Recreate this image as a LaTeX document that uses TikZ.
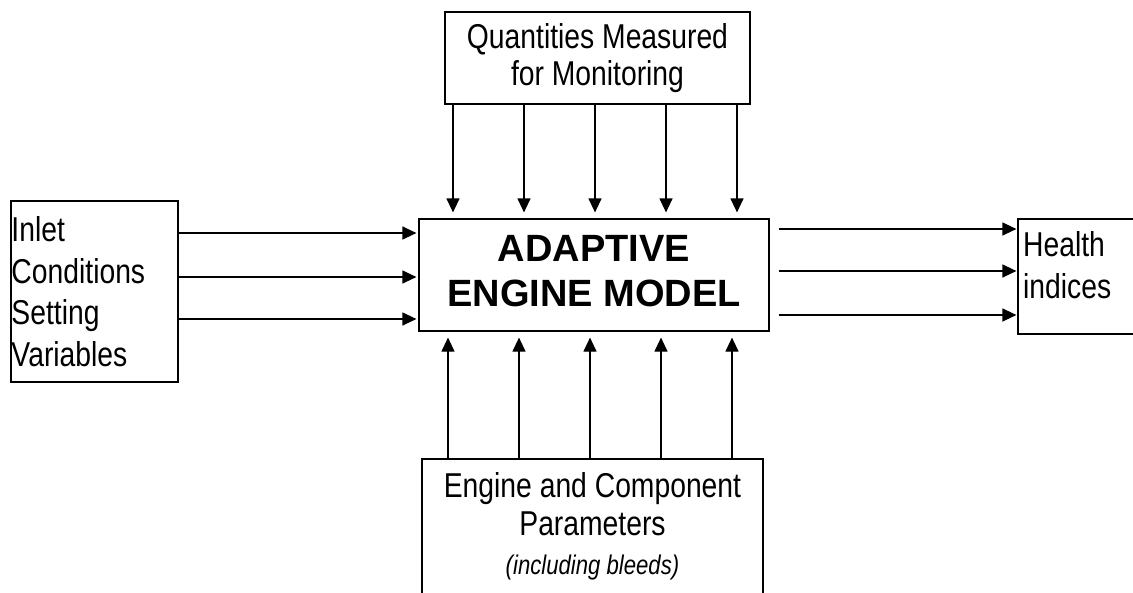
\documentclass[tikz,border=0pt]{standalone}
\usepackage{fontspec}
\setmainfont{Liberation Sans}
\newfontfamily\narrowsans{Liberation Sans}[FakeStretch=0.82]
\usetikzlibrary{arrows.meta}
\begin{document}
\begin{tikzpicture}[x=1pt,y=-1pt,
  box/.style={draw, line width=1.2pt, inner sep=0pt, rectangle},
  txt/.style={font=\narrowsans\fontsize{34.5}{41.5}\selectfont},
  flow/.style={line width=1.2pt, -{Triangle[length=14pt,width=13pt]}},
]
\useasboundingbox (0,0) rectangle (1133,592);

% boxes
\node[box, align=center, minimum width=305pt, minimum height=92pt,
      font=\narrowsans\fontsize{34.5}{37}\selectfont] (qty) at (597.5,58)
  {Quantities Measured\\for Monitoring};
\node[box, minimum width=350pt, minimum height=112pt,
      font=\bfseries\fontsize{38}{45}\selectfont] (model) at (594,275)
  {\raisebox{4pt}{\begin{tabular}{@{}c@{}}ADAPTIVE\\ENGINE MODEL\end{tabular}}};
\node[box, txt, align=left, inner xsep=0.5pt, text width=166pt,
      minimum width=167pt, minimum height=181pt] (inlet) at (94.5,291.5)
  {Inlet\\Conditions\\Setting\\Variables};
\node[box, minimum width=122pt, minimum height=115pt] (health) at (1079,276.5) {};
\node[txt, align=left, anchor=west, inner sep=0pt] (healthtext) at (1023,265)
  {Health\\indices};
\node[box, minimum width=341pt, minimum height=151pt] (params) at (592.5,534.5) {};
\node[align=center, inner sep=0pt, font=\narrowsans\fontsize{34.5}{38.5}\selectfont]
  (paramstext) at (592.5,526)
  {Engine and Component\\Parameters\\{\itshape\fontsize{27}{38.5}\selectfont(including bleeds)}};

% measured quantities into the model
\foreach \x in {453,524,595,666,737} {
  \coordinate (c) at (\x,0);
  \draw[flow, shorten >=6pt] (qty.south -| c) -- (model.north -| c);
}
% parameters into the model
\foreach \x in {448,519,590,661,732} {
  \coordinate (c) at (\x,0);
  \draw[flow, shorten >=6pt] (params.north -| c) -- (model.south -| c);
}
% inlet conditions into the model
\foreach \y in {233,277,319} {
  \coordinate (c) at (0,\y);
  \draw[flow, shorten >=2pt] (inlet.east |- c) -- (model.west |- c);
}
% health indices out of the model
\foreach \y in {229,271,315} {
  \coordinate (c) at (0,\y);
  \draw[flow, shorten <=9pt, shorten >=1pt] (model.east |- c) -- (health.west |- c);
}
\end{tikzpicture}
\end{document}
